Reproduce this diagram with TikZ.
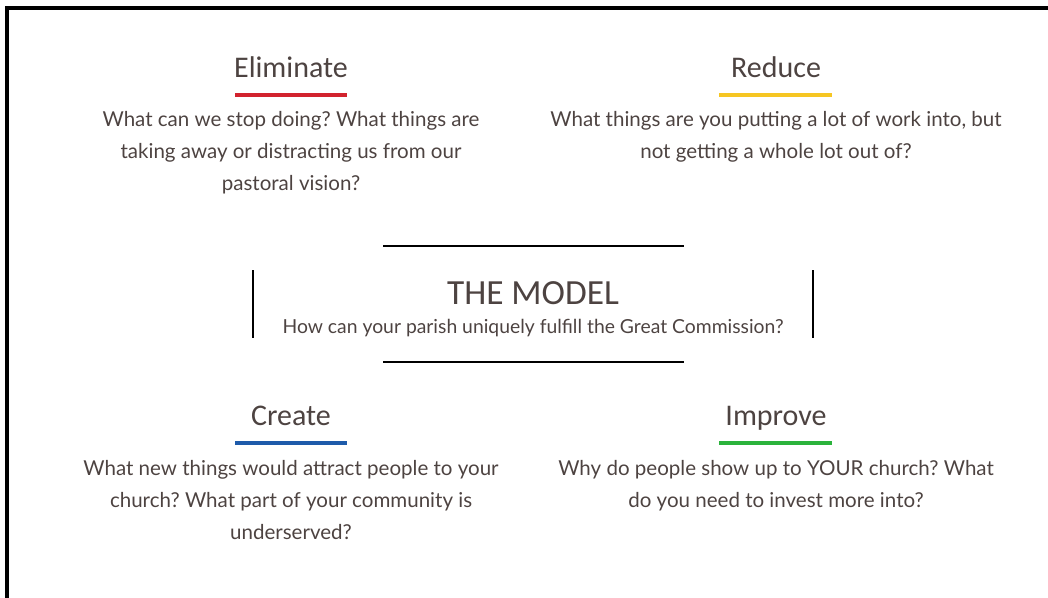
\documentclass[tikz,border=0pt]{standalone}
\usepackage{fontspec}
\usetikzlibrary{positioning}
\setmainfont{Lato}
\newfontfamily\headfont{Carlito}
\definecolor{txt}{HTML}{4D4341}
\definecolor{barred}{HTML}{D2232E}
\definecolor{baryellow}{HTML}{F6C623}
\definecolor{barblue}{HTML}{1E5BAA}
\definecolor{bargreen}{HTML}{2BB33C}
\begin{document}
\frenchspacing
\begin{tikzpicture}[x=0.75pt, y=-0.75pt,
  head/.style={font=\headfont\fontsize{22.5}{27}\selectfont, text=txt, inner sep=0pt, anchor=base},
  body/.style={font=\fontsize{15.4}{24}\selectfont, text=txt, align=center, inner sep=0pt},
  bar/.style={line width=3pt},
  rule/.style={line width=1.5pt, black},
]
\useasboundingbox (0,0) rectangle (1048,597);

%frame
\draw[line width=2.5pt] (7,600) -- (7,8) -- (1052,8);

%corners
\node[head] (elim) at (291,77) {Eliminate};
\draw[bar, barred] (235,95) -- (347,95);
\node[body, anchor=north] (elimq) at (291,111) {What can we stop doing? What things are\\
taking away or distracting us from our\\ pastoral vision?};

\node[head] (red) at (776,77) {Reduce};
\draw[bar, baryellow] (719,95) -- (832,95);
\node[body, anchor=north] (redq) at (776,111) {What things are you putting a lot of work into, but\\
not getting a whole lot out of?};

\node[head] (crea) at (291,425) {Create};
\draw[bar, barblue] (235,443) -- (347,443);
\node[body, anchor=north] (creaq) at (291,460) {What new things would attract people to your\\
church? What part of your community is\\ underserved?};

\node[head] (impr) at (776,425) {Improve};
\draw[bar, bargreen] (719,443) -- (832,443);
\node[body, anchor=north] (imprq) at (776,460) {Why do people show up to YOUR church? What\\
do you need to invest more into?};

%center
\node[head, font=\headfont\fontsize{26.5}{30}\selectfont] (model) at (533,304) {THE MODEL};
\node[body, font=\fontsize{14.5}{17}\selectfont, anchor=base] (modelq) at (533,333) {How can your parish uniquely fulfill the Great Commission?};

\draw[rule] (383,246) -- (684,246);
\draw[rule] (383,362) -- (684,362);
\draw[rule] (253,270) -- (253,338);
\draw[rule] (813,270) -- (813,338);

\end{tikzpicture}
\end{document}
